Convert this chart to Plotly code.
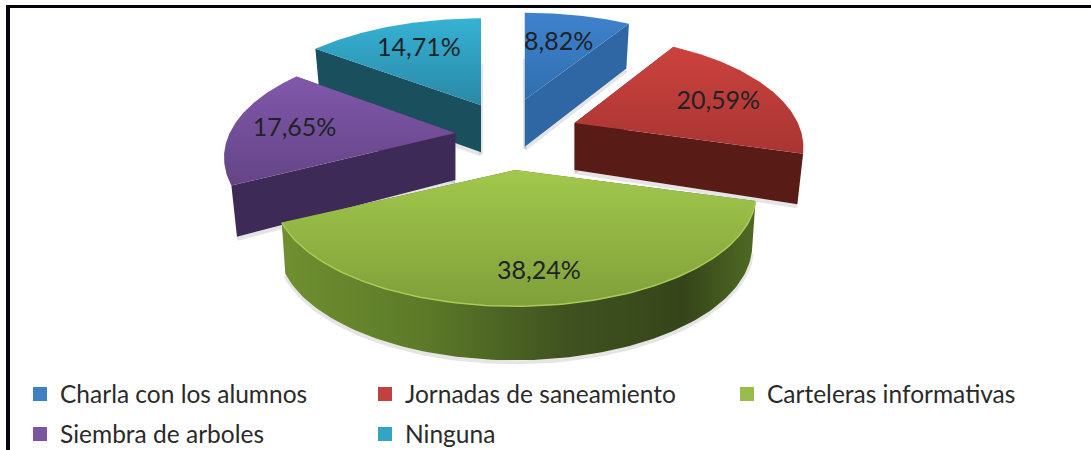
import numpy as np
import plotly.graph_objects as go

labels = ["Charla con los alumnos", "Jornadas de saneamiento", "Carteleras informativas",
          "Siembra de arboles", "Ninguna"]
values = [8.82, 20.59, 38.24, 17.65, 14.71]
value_text = ["8,82%", "20,59%", "38,24%", "17,65%", "14,71%"]
top_light = ["#3f82cc", "#cc423e", "#a2c84c", "#8058ab", "#36b2d4"]
top_dark = ["#2f6fb0", "#a83532", "#7f9f3a", "#644486", "#2a88a6"]
side_cut = ["#2f66a4", "#581b16", "#4a6122", "#3e2a56", "#1a4f5e"]
legend_colors = ["#3f7fc4", "#c0413d", "#9abc4a", "#7a56a2", "#33a5c4"]
order = [4, 0, 3, 1, 2]

# Projection settings for the tilted, exploded pie (page pixels)
CX, CY, PULL_X, PULL_Y = 512, 130, 65, 33
R, K, P = 235, 0.452, 0.22
nudge = [(-5, -4), (2, 4), (-3, -2), (8, 6), (-2, 0)]
x_scale = [1.0, 0.95, 1.0, 0.96, 1.0]
label_frac = [(0.64, 0.66), (0.745, 0.58), (0.86, 0.76), (0.73, 0.38), (0.71, 0.70)]
SHADOW = "rgba(0,0,0,0.10)"


def persp(t):
    return 1 / (1 + P * np.cos(t))


def project(apex, t, xs=1.0):
    s = persp(t)
    return apex[0] + R * xs * np.sin(t) * s, apex[1] - R * K * np.cos(t) * s


def depth(t):
    return 49 - 5 * np.cos(t)


total = sum(values)
edges = np.concatenate([[0], np.cumsum(values)]) / total * 2 * np.pi
fig = go.Figure()


def poly(xs, ys, **kw):
    fig.add_trace(go.Scatter(x=list(xs), y=list(ys), mode="lines", fill="toself",
                             line=dict(width=0), hoverinfo="skip", showlegend=False, **kw))


def stroke(xs, ys, color, width):
    fig.add_trace(go.Scatter(x=list(xs), y=list(ys), mode="lines", hoverinfo="skip", showlegend=False,
                             line=dict(width=width, color=color)))


text_x, text_y = [None] * 5, [None] * 5
for i in order:
    a, b = edges[i], edges[i + 1]
    mid = (a + b) / 2
    apex = (CX + PULL_X * np.sin(mid) + nudge[i][0],
            CY - PULL_Y * np.cos(mid) * persp(mid) + nudge[i][1])
    arc = np.linspace(a, b, 120)
    ax, ay = project(apex, arc, x_scale[i])
    # soft shadows go under every face of the slice
    cuts = []
    for t in (a, b):
        ex, ey = project(apex, t, x_scale[i])
        d = depth(t)
        bx = apex[0] + (ex - apex[0]) * 0.975
        stroke([apex[0], bx], [apex[1] + 49, ey + d + 2], SHADOW, 4)
        cuts.append(([apex[0], ex, bx, apex[0], apex[0]],
                     [apex[1], ey, ey + d, apex[1] + 47, apex[1]]))
    for cx, cy in cuts:
        poly(cx, cy, fillcolor=side_cut[i])
    # rim: only the large front slice shows one
    front_slice = a < np.pi < b
    if front_slice:
        fx, fy = project(apex, arc)
        dd = depth(arc)
        bx = apex[0] + (fx - apex[0]) * 0.985
        stroke(bx, fy + dd + 2, SHADOW, 4)
        poly(np.concatenate([fx, bx[::-1]]), np.concatenate([fy, (fy + dd)[::-1]]),
             fillgradient=dict(type="horizontal", colorscale=[
                 [0, "#6f8f30"], [0.3, "#5c7a28"], [0.6, "#3f5220"], [0.85, "#364519"], [1, "#4f6a24"]]))
    # top face (gradient runs opposite to the reversed pixel axis)
    poly(np.concatenate([[apex[0]], ax, [apex[0]]]),
         np.concatenate([[apex[1]], ay, [apex[1]]]),
         fillgradient=dict(type="vertical", colorscale=[[0, top_dark[i]], [1, top_light[i]]]))
    if front_slice:
        stroke(ax, ay, "#a9cc58", 1.5)
    rx, ry = project(apex, mid, x_scale[i])
    text_x[i] = apex[0] + (rx - apex[0]) * label_frac[i][0]
    text_y[i] = apex[1] + (ry - apex[1]) * label_frac[i][1]

fig.add_trace(go.Scatter(x=text_x, y=text_y, mode="text", text=value_text,
                         textposition="middle center",
                         textfont=dict(family="Lato", size=25, color="#1f2226"),
                         hoverinfo="skip", showlegend=False))

legend_of = ["legend", "legend", "legend3", "legend2", "legend2"]
for i, name in enumerate(labels):
    fig.add_trace(go.Scatter(x=[None], y=[None], mode="markers", name=name, legend=legend_of[i],
                             marker=dict(symbol="square", size=14, color=legend_colors[i])))

legend_base = dict(orientation="h", xanchor="left", yanchor="middle", entrywidthmode="pixels",
                   bgcolor="rgba(0,0,0,0)", font=dict(family="Lato", size=24.5, color="#2a2a2a"),
                   traceorder="normal", itemclick=False, itemdoubleclick=False)
fig.update_layout(
    width=1091, height=450, margin=dict(l=0, r=0, t=0, b=0, autoexpand=False), autosize=False,
    paper_bgcolor="white", plot_bgcolor="white", showlegend=True,
    xaxis=dict(range=[0, 1091], visible=False, fixedrange=True),
    yaxis=dict(range=[450, 0], visible=False, fixedrange=True),
    legend=dict(**legend_base, x=20 / 1091, y=1 - 394 / 450, entrywidth=300),
    legend2=dict(**legend_base, x=20 / 1091, y=1 - 434 / 450, entrywidth=300),
    legend3=dict(**legend_base, x=727 / 1091, y=1 - 394 / 450, entrywidth=300),
    shapes=[
        dict(type="line", xref="paper", yref="paper", x0=6 / 1091, x1=1, y0=1 - 6.5 / 450, y1=1 - 6.5 / 450,
             line=dict(color="#05050f", width=3)),
        dict(type="line", xref="paper", yref="paper", x0=8 / 1091, x1=8 / 1091, y0=0, y1=1 - 5 / 450,
             line=dict(color="#05050f", width=4)),
    ],
)
fig.write_html("out.html", config=dict(displayModeBar=False),
               post_script="document.body.style.margin='0';document.body.style.overflow='hidden';")
